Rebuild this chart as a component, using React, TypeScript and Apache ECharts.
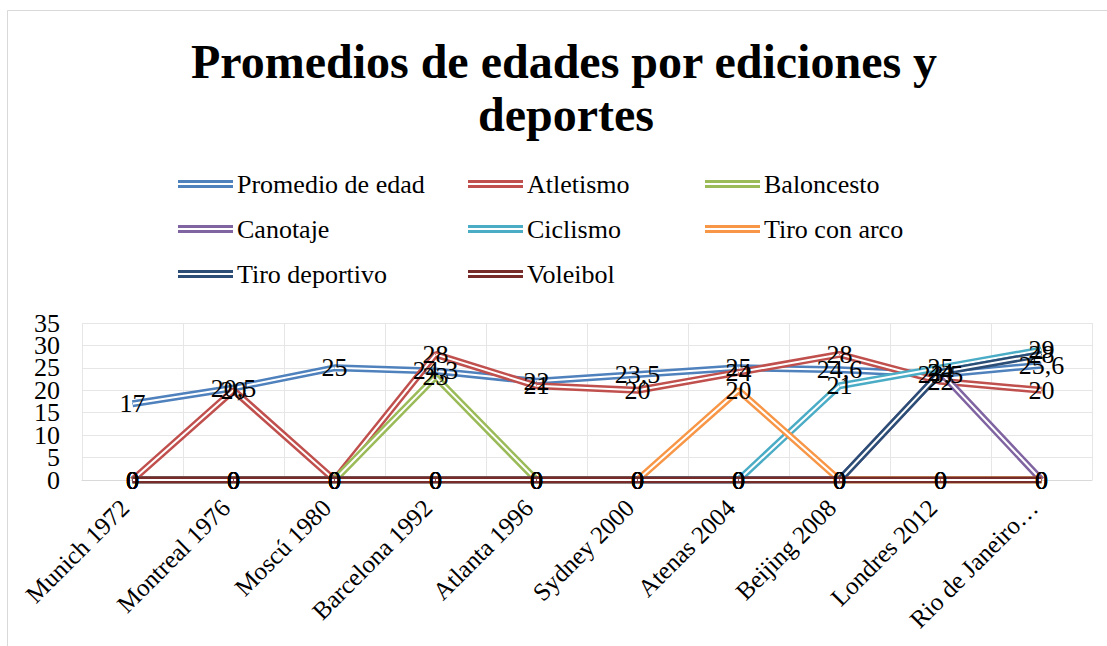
import React, { useEffect, useRef } from "react";
import * as echarts from "echarts";

const categories = [
  "Munich 1972",
  "Montreal 1976",
  "Moscú 1980",
  "Barcelona 1992",
  "Atlanta 1996",
  "Sydney 2000",
  "Atenas 2004",
  "Beijing 2008",
  "Londres 2012",
  "Rio de Janeiro 2016",
];

const seriesNames = [
  "Promedio de edad",
  "Atletismo",
  "Baloncesto",
  "Canotaje",
  "Ciclismo",
  "Tiro con arco",
  "Tiro deportivo",
  "Voleibol",
];

const promedio = [17, 20.5, 25, 24.3, 22, 23.5, 25, 24.6, 23.5, 25.6];
const atletismo = [0, 20, 0, 28, 21, 20, 24, 28, 22, 20];
const baloncesto = [0, 0, 0, 23, 0, 0, 0, 0, 0, 0];
const canotaje = [0, 0, 0, 0, 0, 0, 0, 0, 24, 0];
const ciclismo = [0, 0, 0, 0, 0, 0, 0, 21, 25, 29];
const tiroConArco = [0, 0, 0, 0, 0, 0, 20, 0, 0, 0];
const tiroDeportivo = [0, 0, 0, 0, 0, 0, 0, 0, 24, 28];
const voleibol = [0, 0, 0, 0, 0, 0, 0, 0, 0, 0];

const titleLines = ["Promedios de edades por ediciones y", "deportes"];

const yTicks = [0, 5, 10, 15, 20, 25, 30, 35];
const yMin = 0;
const yMax = 35;
const yStep = 5;

const colors = ["#4F81BD", "#C0504D", "#9BBB59", "#8064A2", "#4BACC6", "#F79646", "#2C4D75", "#772C2A"];

const FONT = '"Liberation Serif", "Times New Roman", serif';
const GRID_LEFT = 82;

export default function App() {
  const ref = useRef<HTMLDivElement>(null);

  useEffect(() => {
    if (!ref.current) return;
    const chart = echarts.init(ref.current, undefined, { renderer: "svg" });
    const allData = [promedio, atletismo, baloncesto, canotaje, ciclismo, tiroConArco, tiroDeportivo, voleibol];

    const series: any[] = [];
    allData.forEach((d, i) => {
      series.push({
        type: "line",
        name: seriesNames[i],
        data: d,
        color: colors[i],
        symbol: "circle",
        symbolSize: 1,
        itemStyle: { color: colors[i] },
        lineStyle: { color: colors[i], width: 7 },
        label: {
          show: true,
          position: "inside",
          fontSize: 26,
          fontFamily: FONT,
          color: "#000",
          formatter: (p: any) => String(p.value).replace(".", ","),
        },
        emphasis: { disabled: true },
        silent: true,
      });
      series.push({
        type: "line",
        name: seriesNames[i] + " ",
        data: d,
        symbol: "none",
        lineStyle: { color: "#ffffff", width: 2 },
        emphasis: { disabled: true },
        silent: true,
      });
    });

    const legendPos: [number, number][] = [
      [178, 185],
      [468, 185],
      [705, 185],
      [178, 230],
      [468, 230],
      [705, 230],
      [178, 275],
      [468, 275],
    ];
    const legends = seriesNames.map((n, i) => ({
      data: [n],
      left: legendPos[i][0],
      top: legendPos[i][1] - 14,
      padding: 0,
      selectedMode: false,
      icon: "path://M0,0H55V3H0Z M0,5H55V8H0Z",
      itemWidth: 55,
      itemHeight: 8,
      itemStyle: { borderWidth: 0 },
      textStyle: { fontSize: 26, fontFamily: FONT, color: "#000", padding: [0, 0, 0, -1] },
    }));

    const baseGraphic: any[] = [
      {
        id: "frame",
        type: "rect",
        silent: true,
        z: -10,
        shape: { x: 7.5, y: 10.5, width: 1200, height: 700 },
        style: { fill: "none", stroke: "#d9d9d9", lineWidth: 1 },
      },
      {
        id: "t1",
        type: "text",
        x: 564,
        y: 61,
        silent: true,
        style: {
          text: titleLines[0],
          font: 'bold 48px "Liberation Serif", "Times New Roman", serif',
          fill: "#000",
          textAlign: "center",
          textVerticalAlign: "middle",
        },
      },
      {
        id: "t2",
        type: "text",
        x: 566,
        y: 114,
        silent: true,
        style: {
          text: titleLines[1],
          font: 'bold 48px "Liberation Serif", "Times New Roman", serif',
          fill: "#000",
          textAlign: "center",
          textVerticalAlign: "middle",
        },
      },
    ];

    chart.setOption({
      animation: false,
      backgroundColor: "#ffffff",
      legend: legends,
      grid: { left: GRID_LEFT, right: 15, top: 323, bottom: 166, containLabel: false },
      xAxis: {
        type: "category",
        data: categories,
        boundaryGap: true,
        axisLine: { show: true, lineStyle: { color: "#d9d9d9", width: 1 } },
        axisTick: { show: false },
        splitLine: { show: true, lineStyle: { color: "#e6e6e6", width: 1 } },
        axisLabel: {
          rotate: 45,
          interval: 0,
          margin: 16,
          padding: [0, 11, 0, 0],
          fontSize: 25,
          fontFamily: FONT,
          color: "#000",
          formatter: (v: string) => (v.length > 15 ? v.slice(0, 14) + "…" : v),
        },
      },
      yAxis: {
        type: "value",
        min: yMin,
        max: yMax,
        interval: yStep,
        axisLine: { show: false },
        axisTick: { show: false },
        splitLine: { show: true, lineStyle: { color: "#e6e6e6", width: 1 } },
        axisLabel: { show: false },
      },
      graphic: baseGraphic,
      series,
    });

    // y tick labels placed through the axis scale
    const tickTexts = yTicks.map((v, i) => {
      const py = chart.convertToPixel({ yAxisIndex: 0 }, v) as unknown as number;
      return {
        id: "ytick" + i,
        type: "text",
        x: GRID_LEFT - 22,
        y: py,
        silent: true,
        style: {
          text: String(v),
          font: '26px "Liberation Serif", "Times New Roman", serif',
          fill: "#000",
          textAlign: "right",
          textVerticalAlign: "middle",
        },
      };
    });
    chart.setOption({ graphic: [...baseGraphic, ...tickTexts] });

    return () => chart.dispose();
  }, []);

  return (
    <div
      ref={ref}
      style={{ position: "fixed", left: 0, top: 0, width: 1107, height: 646 }}
    />
  );
}
